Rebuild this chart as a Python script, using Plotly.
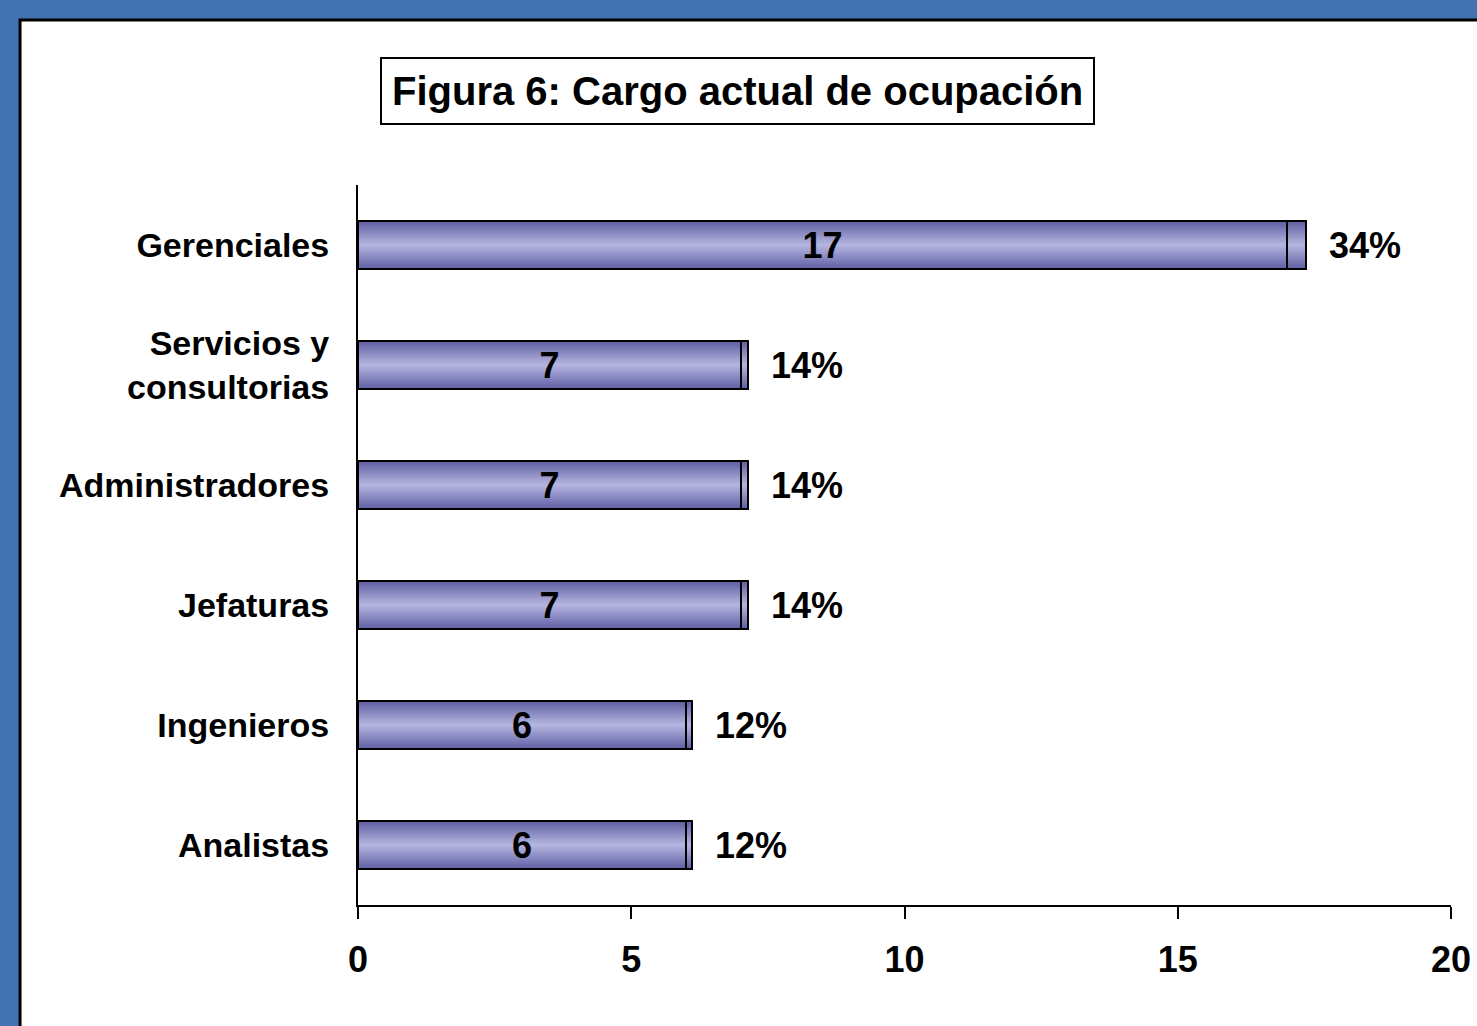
import plotly.graph_objects as go

# data
categories = ["Gerenciales", "Servicios y<br>consultorias", "Administradores",
              "Jefaturas", "Ingenieros", "Analistas"]
counts = [17, 7, 7, 7, 6, 6]
percents = [34, 14, 14, 14, 12, 12]
x_ticks = [0, 5, 10, 15, 20]

FONT = "Liberation Sans, Arial, sans-serif"
BAR_W = 0.4
N_LAYERS = 24
dark = (96, 96, 164)
light = (180, 180, 224)

fractions = [p / 100 for p in percents]

fig = go.Figure()

# fake vertical gradient: narrower, lighter bars laid over each other
for k in range(N_LAYERS):
    t = k / (N_LAYERS - 1)
    c = tuple(int(dark[i] + (light[i] - dark[i]) * t) for i in range(3))
    color = "rgb(%d,%d,%d)" % c
    w = BAR_W * (1 - k / N_LAYERS)
    fig.add_trace(go.Bar(
        y=categories, x=counts, base=[0] * len(counts), orientation="h",
        width=w, marker=dict(color=color, line=dict(width=0)),
        hoverinfo="skip", showlegend=False,
    ))
    fig.add_trace(go.Bar(
        y=categories, x=fractions, base=counts, orientation="h",
        width=w, marker=dict(color=color, line=dict(width=0)),
        hoverinfo="skip", showlegend=False,
    ))

# outlines and labels
fig.add_trace(go.Bar(
    y=categories, x=counts, base=[0] * len(counts), orientation="h",
    width=BAR_W, marker=dict(color="rgba(0,0,0,0)", line=dict(color="black", width=2)),
    text=[str(c) for c in counts], textposition="inside", insidetextanchor="middle",
    textangle=0, constraintext="none",
    textfont=dict(family=FONT, size=36, color="black", weight="bold"),
    hovertemplate="%{y}: %{x}<extra></extra>", showlegend=False,
))
fig.add_trace(go.Bar(
    y=categories, x=fractions, base=counts, orientation="h",
    width=BAR_W, marker=dict(color="rgba(0,0,0,0)", line=dict(color="black", width=2)),
    text=["  %d%%" % p for p in percents], textposition="outside",
    textangle=0, constraintext="none", cliponaxis=False,
    textfont=dict(family=FONT, size=36, color="black", weight="bold"),
    hovertemplate="%{y}: %{text}<extra></extra>", showlegend=False,
))

# white panel inside the blue frame
fig.add_shape(type="rect", xref="paper", yref="paper",
              x0=-0.3092, x1=1.05, y0=-0.2, y1=1.229,
              fillcolor="white", line=dict(color="black", width=3), layer="below")

fig.add_annotation(
    text="Figura 6: Cargo actual de ocupación", xref="paper", yref="paper",
    x=0.3468, y=1.13, xanchor="center", yanchor="middle", showarrow=False,
    font=dict(family=FONT, size=40, color="black", weight="bold"),
    bordercolor="black", borderwidth=2, borderpad=10, bgcolor="white",
)

fig.update_layout(
    width=1477, height=1026,
    margin=dict(l=358, r=26, t=185, b=121),
    paper_bgcolor="rgb(66,115,176)", plot_bgcolor="white",
    barmode="overlay", bargap=0,
    font=dict(family=FONT, size=34, color="black", weight="bold"),
    xaxis=dict(range=[0, 20], tickvals=x_ticks, showgrid=False, zeroline=False,
               showline=True, linecolor="black", linewidth=2,
               ticks="outside", ticklen=12, tickwidth=2, tickcolor="black",
               ticklabelstandoff=10, automargin=False,
               tickfont=dict(family=FONT, size=36, color="black", weight="bold")),
    yaxis=dict(categoryorder="array", categoryarray=categories, autorange="reversed",
               showgrid=False, zeroline=False, showline=True, linecolor="black",
               linewidth=2, ticks="", ticklabelstandoff=20, automargin=False,
               tickfont=dict(family=FONT, size=34, color="black", weight="bold")),
)

fig.write_html("out.html", config={"displayModeBar": False},
               post_script="document.body.style.margin='0';")
